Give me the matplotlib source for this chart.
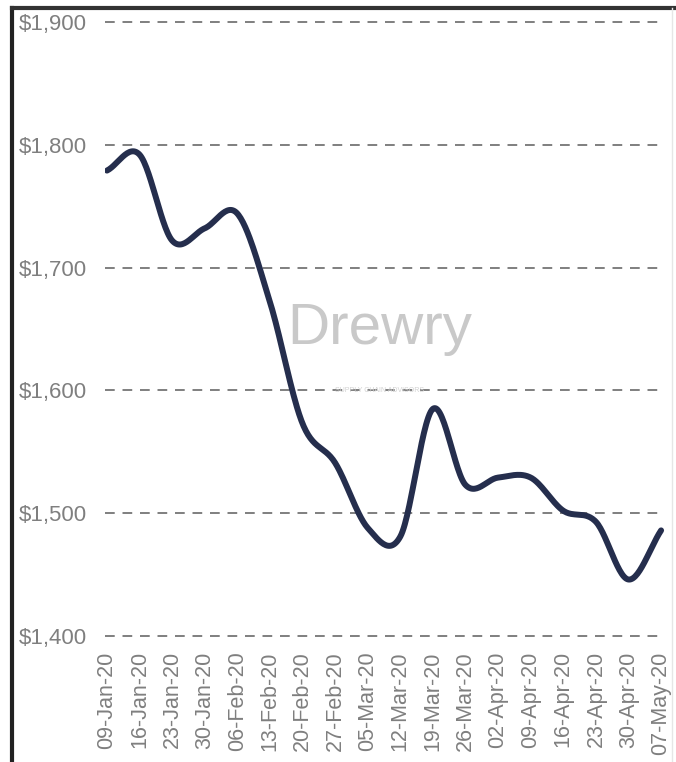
import numpy as np
import matplotlib
matplotlib.use("Agg")
import matplotlib.pyplot as plt
from matplotlib.lines import Line2D

# weekly freight rate, USD
dates = ["09-Jan-20", "16-Jan-20", "23-Jan-20", "30-Jan-20", "06-Feb-20", "13-Feb-20",
         "20-Feb-20", "27-Feb-20", "05-Mar-20", "12-Mar-20", "19-Mar-20", "26-Mar-20",
         "02-Apr-20", "09-Apr-20", "16-Apr-20", "23-Apr-20", "30-Apr-20", "07-May-20"]
rates = [1779, 1792, 1722, 1732, 1744, 1672, 1573, 1541, 1488, 1481, 1585, 1523,
         1529, 1529, 1502, 1493, 1446, 1486]
yticks = [1400, 1500, 1600, 1700, 1800, 1900]

GRAY = "#7f7f7f"
NAVY = "#252e4d"
FONT = "Liberation Sans"


def smooth(xs, ys, n=30):
    # excel-like smoothed line (catmull-rom through the points)
    xs = np.asarray(xs, float); ys = np.asarray(ys, float)
    px = np.concatenate([[2*xs[0]-xs[1]], xs, [2*xs[-1]-xs[-2]]])
    py = np.concatenate([[2*ys[0]-ys[1]], ys, [2*ys[-1]-ys[-2]]])
    outx, outy = [], []
    t = np.linspace(0, 1, n)
    for i in range(1, len(px)-2):
        for arr, out in ((px, outx), (py, outy)):
            p0, p1, p2, p3 = arr[i-1], arr[i], arr[i+1], arr[i+2]
            c1 = p1 + (p2 - p0) / 6
            c2 = p2 - (p3 - p1) / 6
            out.extend((1-t)**3*p1 + 3*(1-t)**2*t*c1 + 3*(1-t)*t**2*c2 + t**3*p2)
    return np.array(outx), np.array(outy)


W, H = 676, 762
fig = plt.figure(figsize=(W/100, H/100), dpi=100)
ax = fig.add_axes([105/W, 1-636/H, 560/W, 614/H])

x = np.arange(len(rates))
sx, sy = smooth(x, rates)
ax.plot(sx, sy, color=NAVY, lw=4.3, solid_capstyle="round", zorder=3)

ax.set_xlim(-0.06, len(rates) - 1 + 0.12)
ax.set_ylim(1400, 1900)
ax.set_yticks(yticks)
ax.set_yticklabels([f"${v:,}" for v in yticks])
ax.set_xticks(x)
ax.set_xticklabels(dates, rotation=90)
ax.tick_params(length=0, colors=GRAY)
ax.tick_params(axis="y", pad=13, labelsize=16)
ax.tick_params(axis="x", pad=11, labelsize=15.5)
for lab in ax.get_xticklabels() + ax.get_yticklabels():
    lab.set_fontfamily(FONT)
for v in yticks:
    ax.axhline(v, color=GRAY, lw=1.4, ls=(0, (5, 4)), zorder=1, clip_on=False)
for s in ax.spines.values():
    s.set_visible(False)

# watermark
ax.text(0.49, 0.50, "Drewry", transform=ax.transAxes, ha="center", va="center",
        fontsize=42, color="#c9c9c9", family=FONT, zorder=2)
ax.text(0.49, 0.40, "SUPPLY CHAIN ADVISORS", transform=ax.transAxes, ha="center",
        va="center", fontsize=5, color="#d0d0d0", family=FONT, zorder=2)

# frame around the picture
fig.add_artist(Line2D([12/W, 12/W], [0, 1-8/H], color="#222222", lw=3))
fig.add_artist(Line2D([12/W, 1], [1-8/H, 1-8/H], color="#333333", lw=3))
fig.add_artist(Line2D([672/W, 672/W], [0, 1-8/H], color="#e6e6e6", lw=1))

fig.savefig("out.png", dpi=100)
